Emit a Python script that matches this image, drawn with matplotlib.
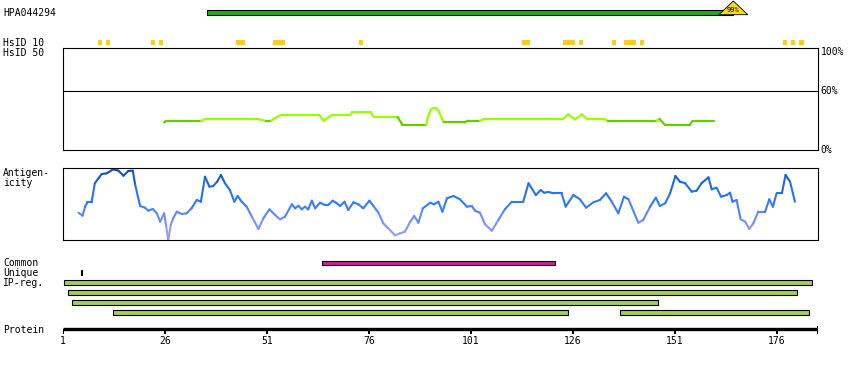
import numpy as np
import matplotlib.pyplot as plt
from matplotlib.collections import LineCollection
from matplotlib.colors import LinearSegmentedColormap
from matplotlib.patches import Rectangle, Polygon

# ---- data ----
protein_len = 186
antibody = "HPA044294"
ab_start, ab_end = 36.4, 165.3
ab_score = "99%"

# HsID 10 hits (first, last residue)
hsid10 = [(10, 10), (12, 12), (23, 23), (25, 25), (44, 45), (53, 55), (74, 74),
          (114, 115), (124, 126), (128, 128), (136, 136), (139, 141), (143, 143),
          (178, 178), (180, 180), (182, 182)]

# identity (%) along the antigen
id_res = [25.8, 26.2, 34.8, 35.8, 49.0, 50.7, 52.0, 52.8, 53.6, 54.6,
          63.8, 64.9, 66.9, 71.4, 71.9, 76.4, 77.2, 83.0, 84.2, 90.0,
          90.6, 91.2, 91.7, 92.5, 93.0, 94.3, 99.5, 100.1, 103.2, 104.0,
          123.5, 124.8, 126.5, 128.2, 129.5, 133.8, 134.5, 146.5, 147.2, 148.5,
          154.6, 155.3, 160.6]
id_pct = [27.8, 29.4, 29.4, 31.0, 31.0, 29.4, 29.4, 32.0, 33.5, 35.5,
          35.5, 29.4, 35.5, 35.5, 37.9, 37.9, 33.3, 33.3, 25.5, 25.5,
          35.0, 41.0, 42.0, 42.0, 40.0, 27.8, 27.8, 29.4, 29.4, 31.0,
          31.0, 36.0, 31.0, 36.0, 31.0, 31.0, 29.4, 29.4, 31.4, 25.5,
          25.5, 29.4, 29.4]

# antigenicity (relative score 0-100)
ag_res = [4.8, 5.8, 6.4, 7.0, 8.0, 8.8, 9.7, 10.5, 11.7, 13.3,
          14.6, 15.8, 17.0, 18.1, 18.7, 19.9, 21.1, 21.9, 23.0, 24.0,
          24.8, 25.8, 26.3, 26.8, 27.4, 28.0, 28.9, 30.1, 31.3, 32.5,
          33.8, 34.8, 35.8, 36.9, 37.8, 38.8, 39.7, 40.7, 41.9, 43.0,
          43.8, 44.8, 46.0, 47.3, 48.9, 50.1, 51.6, 53.0, 54.2, 55.4,
          57.1, 57.9, 58.7, 59.5, 60.3, 61.1, 62.0, 62.8, 64.0, 65.2,
          66.0, 67.1, 68.1, 68.9, 70.0, 70.9, 72.2, 73.4, 74.6, 76.1,
          77.1, 78.3, 79.5, 80.7, 82.4, 83.6, 84.8, 86.1, 87.1, 88.1,
          89.2, 91.0, 91.9, 93.0, 94.0, 95.1, 96.7, 98.3, 100.0, 101.2,
          102.0, 103.2, 104.4, 106.1, 107.7, 109.3, 111.0, 113.8, 115.1, 116.9,
          118.1, 118.9, 120.0, 121.2, 123.2, 124.2, 126.1, 127.7, 129.2, 131.0,
          132.6, 134.1, 135.5, 137.1, 138.5, 139.6, 142.0, 143.2, 144.9, 146.3,
          147.3, 148.6, 149.8, 151.1, 152.2, 153.5, 155.1, 156.3, 157.5, 159.2,
          160.0, 161.2, 162.3, 163.7, 164.5, 165.1, 166.1, 167.1, 168.2, 169.2,
          170.2, 171.4, 173.1, 174.1, 175.0, 175.9, 177.2, 178.1, 179.2, 180.4]
ag_score = [37.9, 33.8, 46.3, 52.4, 52.4, 78.8, 85.7, 91.7, 92.6, 98.2,
            96.3, 89.3, 95.8, 96.3, 76.4, 47.2, 44.9, 40.7, 43.1, 37.1,
            25.4, 37.1, 18.5, 0.0, 20.8, 30.1, 39.3, 36.1, 37.1, 44.0,
            55.6, 53.2, 87.9, 74.0, 75.0, 81.0, 90.3, 78.8, 69.4, 53.2,
            61.1, 53.2, 46.3, 32.4, 15.3, 30.1, 42.6, 34.7, 28.7, 32.4,
            49.6, 44.0, 47.6, 42.6, 46.3, 42.6, 54.6, 44.0, 51.8, 48.6,
            48.6, 54.6, 51.0, 47.2, 53.2, 41.7, 52.4, 49.6, 44.0, 54.6,
            47.2, 37.9, 23.2, 16.3, 6.5, 9.3, 11.5, 25.4, 33.3, 24.0,
            44.0, 51.8, 49.6, 53.2, 39.3, 57.9, 61.1, 56.5, 46.3, 47.2,
            40.7, 37.9, 22.2, 12.9, 27.8, 42.6, 53.2, 53.2, 78.8, 62.5,
            69.4, 65.7, 66.7, 64.9, 64.9, 46.3, 62.5, 56.5, 44.9, 52.4,
            55.6, 64.9, 53.2, 37.1, 60.1, 56.5, 24.0, 27.8, 46.3, 58.8,
            47.2, 51.0, 64.9, 88.9, 81.0, 78.8, 67.1, 68.5, 78.8, 87.1,
            70.4, 72.6, 60.1, 62.5, 65.7, 53.2, 55.6, 28.7, 25.4, 15.3,
            23.2, 39.3, 39.3, 56.5, 46.3, 64.9, 64.9, 90.3, 81.0, 53.2]

# regions (start, end) in residue coordinates
common = [(64.5, 121.5)]
unique = [(5.3, 5.65)]
ip_regions = [(1.3, 184.7), (2.2, 180.8), (3.2, 146.8), (13.3, 124.7), (137.6, 183.8)]
ip_rows = [0, 1, 2, 3, 3]

tick_res = [1, 26, 51, 76, 101, 126, 151, 176]

# ---- layout (pixels) ----
W, H = 850, 370
X0, X1 = 63, 817.8
MONO = 'DejaVu Sans Mono'
FS = 7


def px_axes(fig, x0, y0, x1, y1):
    return fig.add_axes([x0 / W, 1 - y1 / H, (x1 - x0) / W, (y1 - y0) / H])


fig = plt.figure(figsize=(W / 100, H / 100), dpi=100)
fig.patch.set_facecolor('white')

# track axes: residues on x, pixel rows on y
tr = px_axes(fig, X0, 0, X1, H)
tr.set_xlim(1, protein_len)
tr.set_ylim(H, 0)
tr.axis('off')

# antibody bar with score triangle
tr.add_patch(Rectangle((ab_start, 10), ab_end - ab_start, 4.7, facecolor='#22a822',
                       edgecolor='black', lw=0.8))
tr.add_patch(Polygon([(ab_end, 1), (ab_end - 3.55, 14.7), (ab_end + 3.55, 14.7)],
                     closed=True, facecolor='#f5d820', edgecolor='black', lw=0.6))
tr.text(ab_end, 10, ab_score, fontsize=5, family=MONO, ha='center', va='center')

# HsID 10 hits
for a, b in hsid10:
    tr.add_patch(Rectangle((a - 0.5, 40), b - a + 1, 4.7, facecolor='#ffc926', edgecolor='none'))

# common / unique / IP regions
for a, b in common:
    tr.add_patch(Rectangle((a, 260.5), b - a, 4, facecolor='#cc2299', edgecolor='black', lw=0.8))
for a, b in unique:
    tr.add_patch(Rectangle((a, 270), b - a, 4.5, facecolor='black', edgecolor='black', lw=0.8))
for (a, b), row in zip(ip_regions, ip_rows):
    tr.add_patch(Rectangle((a, 280.2 + 10 * row), b - a, 4.3, facecolor='#a2cf5c',
                           edgecolor='black', lw=0.8))

# protein axis
tr.plot([1, protein_len], [329, 329], color='black', lw=2.4, solid_capstyle='butt')
for t in tick_res:
    tr.plot([t, t], [329, 334], color='black', lw=1.5, solid_capstyle='butt')
    tr.text(t, 341.5, str(t), fontsize=FS, family=MONO, ha='center', va='center')
tr.plot([protein_len, protein_len], [325.5, 334], color='black', lw=1.5, solid_capstyle='butt')

# identity panel
ida = px_axes(fig, X0, 48, X1, 150)
ida.set_xlim(1, protein_len)
ida.set_ylim(0, 103)
ida.set_xticks([])
ida.set_yticks([])
for s in ida.spines.values():
    s.set_linewidth(0.8)
ida.axhline(60, color='black', lw=0.8)
pts = np.column_stack([id_res, id_pct])
segs = np.stack([pts[:-1], pts[1:]], axis=1)
mid = (np.array(id_pct[:-1]) + np.array(id_pct[1:])) / 2
cols = ['#66cc00' if m < 30 else '#99ff00' for m in mid]
ida.add_collection(LineCollection(segs, colors=cols, linewidths=1.6, capstyle='round'))
for v, lab in [(99, '100%'), (60, '60%'), (0, '0%')]:
    ida.text(1.004, v / 103, lab, transform=ida.transAxes, fontsize=FS, family=MONO,
             ha='left', va='center')

# antigenicity panel
aga = px_axes(fig, X0, 168, X1, 240)
aga.set_xlim(1, protein_len)
aga.set_ylim(0, 100)
aga.set_xticks([])
aga.set_yticks([])
for s in aga.spines.values():
    s.set_linewidth(0.8)
cmap = LinearSegmentedColormap.from_list('ag', [(0, '#a8a0ff'), (0.3, '#6f8cff'),
                                                (0.5, '#2f7bff'), (0.75, '#1f6ee8'),
                                                (1, '#0a48a8')])
pts = np.column_stack([ag_res, ag_score])
segs = np.stack([pts[:-1], pts[1:]], axis=1)
mid = (np.array(ag_score[:-1]) + np.array(ag_score[1:])) / 200
lc = LineCollection(segs, colors=cmap(mid), linewidths=1.5, capstyle='round')
lc.set_clip_on(False)
aga.add_collection(lc)

# left labels
labels = [(13, antibody), (42.5, 'HsID 10'), (53, 'HsID 50'), (173.5, 'Antigen-'),
          (183.5, 'icity'), (262.5, 'Common'), (272.5, 'Unique'), (282.5, 'IP-reg.'),
          (330, 'Protein')]
for y, t in labels:
    fig.text(3 / W, 1 - y / H, t, fontsize=FS, family=MONO, ha='left', va='center')

fig.savefig('out.png', dpi=100, facecolor='white')
plt.close(fig)
